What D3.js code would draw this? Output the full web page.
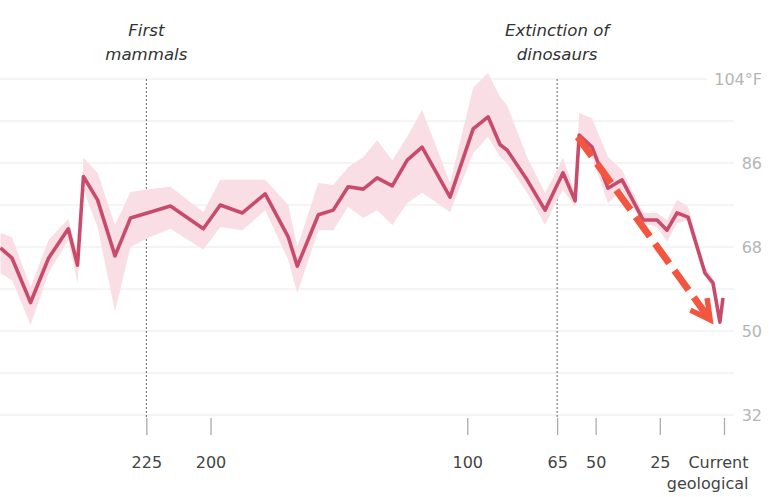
<!DOCTYPE html>
<html><head><meta charset="utf-8">
<script src="https://cdn.jsdelivr.net/npm/d3@7"></script>
<style>body{margin:0;background:#fff}svg{display:block}</style>
</head><body><svg id="c" width="777" height="497"></svg>
<script>
// Millions of years ago
const ages  = [281.8,277.3,270.1,263.1,255.4,251.8,249.5,244.0,237.2,231.2,224.6,215.6,202.8,196.2,187.6,178.7,169.7,166.2,158.0,152.2,146.4,140.5,135.1,129.2,123.4,117.6,106.7,97.7,91.9,87.2,84.5,76.7,69.7,65.0,62.7,58.0,56.4,51.4,45.2,39.7,31.5,26.1,22.2,18.3,14.0,7.4,4.3,1.6,0.4];
// Mean temperature, °F
const temps = [67.8,65.6,56.1,65.6,71.9,64.1,83.1,78.1,66.1,74.2,75.3,76.8,71.9,77.0,75.3,79.4,70.1,63.9,74.9,75.9,80.9,80.4,82.8,81.1,86.6,89.4,78.7,93.3,95.9,89.9,88.8,82.4,75.9,81.3,83.9,77.9,92.0,89.4,80.6,82.4,73.8,73.8,71.6,75.3,74.4,62.4,60.3,51.9,57.1];
// Uncertainty band
const upper = [71.0,70.1,59.4,69.5,74.0,66.7,87.1,83.9,72.7,79.8,80.4,80.9,75.5,82.4,82.4,82.4,77.0,68.0,81.7,81.3,85.1,87.3,90.9,86.6,91.6,97.4,81.7,102.1,105.3,100.1,98.4,87.3,79.6,84.5,87.1,79.6,96.7,95.6,87.3,84.5,75.3,75.3,73.8,78.1,76.6,63.7,61.4,52.8,57.9];
const lower = [62.4,60.9,51.3,62.4,69.5,60.3,80.2,72.3,54.1,68.0,69.9,71.9,67.4,72.3,71.6,75.9,65.2,58.1,71.6,71.6,76.6,74.2,75.9,72.7,77.4,79.6,75.5,88.1,91.6,87.3,86.0,79.6,72.7,78.1,80.2,76.6,90.9,87.3,77.4,80.2,73.1,72.3,69.1,73.1,73.8,61.6,59.2,51.1,56.2];

const gridTemps  = [104,95,86,77,68,59,50,41,32];
const labelTemps = [104,86,68,50,32];
const xTicks     = [225,200,100,65,50,25,0];
const xTickLabels = ["225","200","100","65","50","25","Current"];
const eventAges  = [225,65];
const eventLabels = [["First","mammals"],["Extinction of","dinosaurs"]];
const arrowAges  = [57,5.4];
const arrowTemps = [91.6,52.4];

const svg = d3.select("#c");
const FONT = "DejaVu Sans, Verdana, sans-serif";
const x = d3.scaleLinear().domain([282,0]).range([0,724]);
const y = d3.scaleLinear().domain([32,104]).range([415,79]);

// gridlines + right labels
const gG = svg.append("g");
const labG = svg.append("g");
gridTemps.forEach(t=>{
  let x2 = 734;
  if (labelTemps.includes(t)) {
    const tx = labG.append("text")
      .attr("x",762).attr("y",y(t)).attr("dy","0.36em")
      .attr("text-anchor","end").attr("font-family",FONT).attr("font-size",16)
      .attr("fill","#b5b5b5").text(t===104 ? t+"°F" : t);
    const w = tx.node().getComputedTextLength();
    x2 = Math.min(734, 762 - w - 7);
  }
  gG.append("line").attr("x1",0).attr("x2",x2).attr("y1",y(t)).attr("y2",y(t))
    .attr("stroke","#e9e9e9").attr("stroke-width",1.2);
});

// event lines and labels
eventAges.forEach((a,i)=>{
  svg.append("line").attr("x1",x(a)).attr("x2",x(a)).attr("y1",y(104)).attr("y2",418)
    .attr("stroke","#666").attr("stroke-width",1).attr("stroke-dasharray","2,2");
  const t = svg.append("text").attr("font-family",FONT).attr("font-size",16.6)
    .attr("font-style","italic").attr("fill","#333").attr("text-anchor","middle");
  eventLabels[i].forEach((s,j)=>t.append("tspan").attr("x",x(a)).attr("y",36+j*24).text(s));
});

// band
const idx = d3.range(ages.length);
svg.append("path").datum(idx)
  .attr("d", d3.area().x(i=>x(ages[i])).y0(i=>y(lower[i])).y1(i=>y(upper[i])))
  .attr("fill","#f9dee5");

// line
svg.append("path").datum(idx)
  .attr("d", d3.line().x(i=>x(ages[i])).y(i=>y(temps[i])))
  .attr("fill","none").attr("stroke","#c94b6c").attr("stroke-width",3.6)
  .attr("stroke-linejoin","round");

// arrow
const ax0 = x(arrowAges[0]), ay0 = y(arrowTemps[0]), ax1 = x(arrowAges[1]), ay1 = y(arrowTemps[1]);
const ang = Math.atan2(ay1-ay0, ax1-ax0);
const AC = "#f4553f";
svg.append("line").attr("x1",ax0).attr("y1",ay0).attr("x2",ax1-6*Math.cos(ang)).attr("y2",ay1-6*Math.sin(ang))
  .attr("stroke",AC).attr("stroke-width",7).attr("stroke-dasharray","24 9");
const wl = 22, wa = 28*Math.PI/180;
const back = ang + Math.PI;
svg.append("path")
  .attr("d", `M${ax1+wl*Math.cos(back-wa)},${ay1+wl*Math.sin(back-wa)}L${ax1},${ay1}L${ax1+wl*Math.cos(back+wa)},${ay1+wl*Math.sin(back+wa)}`)
  .attr("fill","none").attr("stroke",AC).attr("stroke-width",5.5).attr("stroke-linejoin","miter");

// x axis
const axis = d3.axisBottom(x).tickValues(xTicks).tickSize(17).tickPadding(22)
  .tickFormat((d,i)=>xTickLabels[i]);
const ag = svg.append("g").attr("transform","translate(0,418)").call(axis);
ag.select(".domain").remove();
ag.selectAll(".tick line").attr("stroke","#aaa").attr("stroke-width",1.3);
ag.selectAll(".tick text").attr("font-family",FONT).attr("font-size",16).attr("fill","#444");
ag.selectAll(".tick").filter(d=>d===0).select("text")
  .attr("text-anchor","end").attr("x",24)
  .append("tspan").attr("x",24).attr("dy","1.3em").text("geological");
</script>
</body></html>
